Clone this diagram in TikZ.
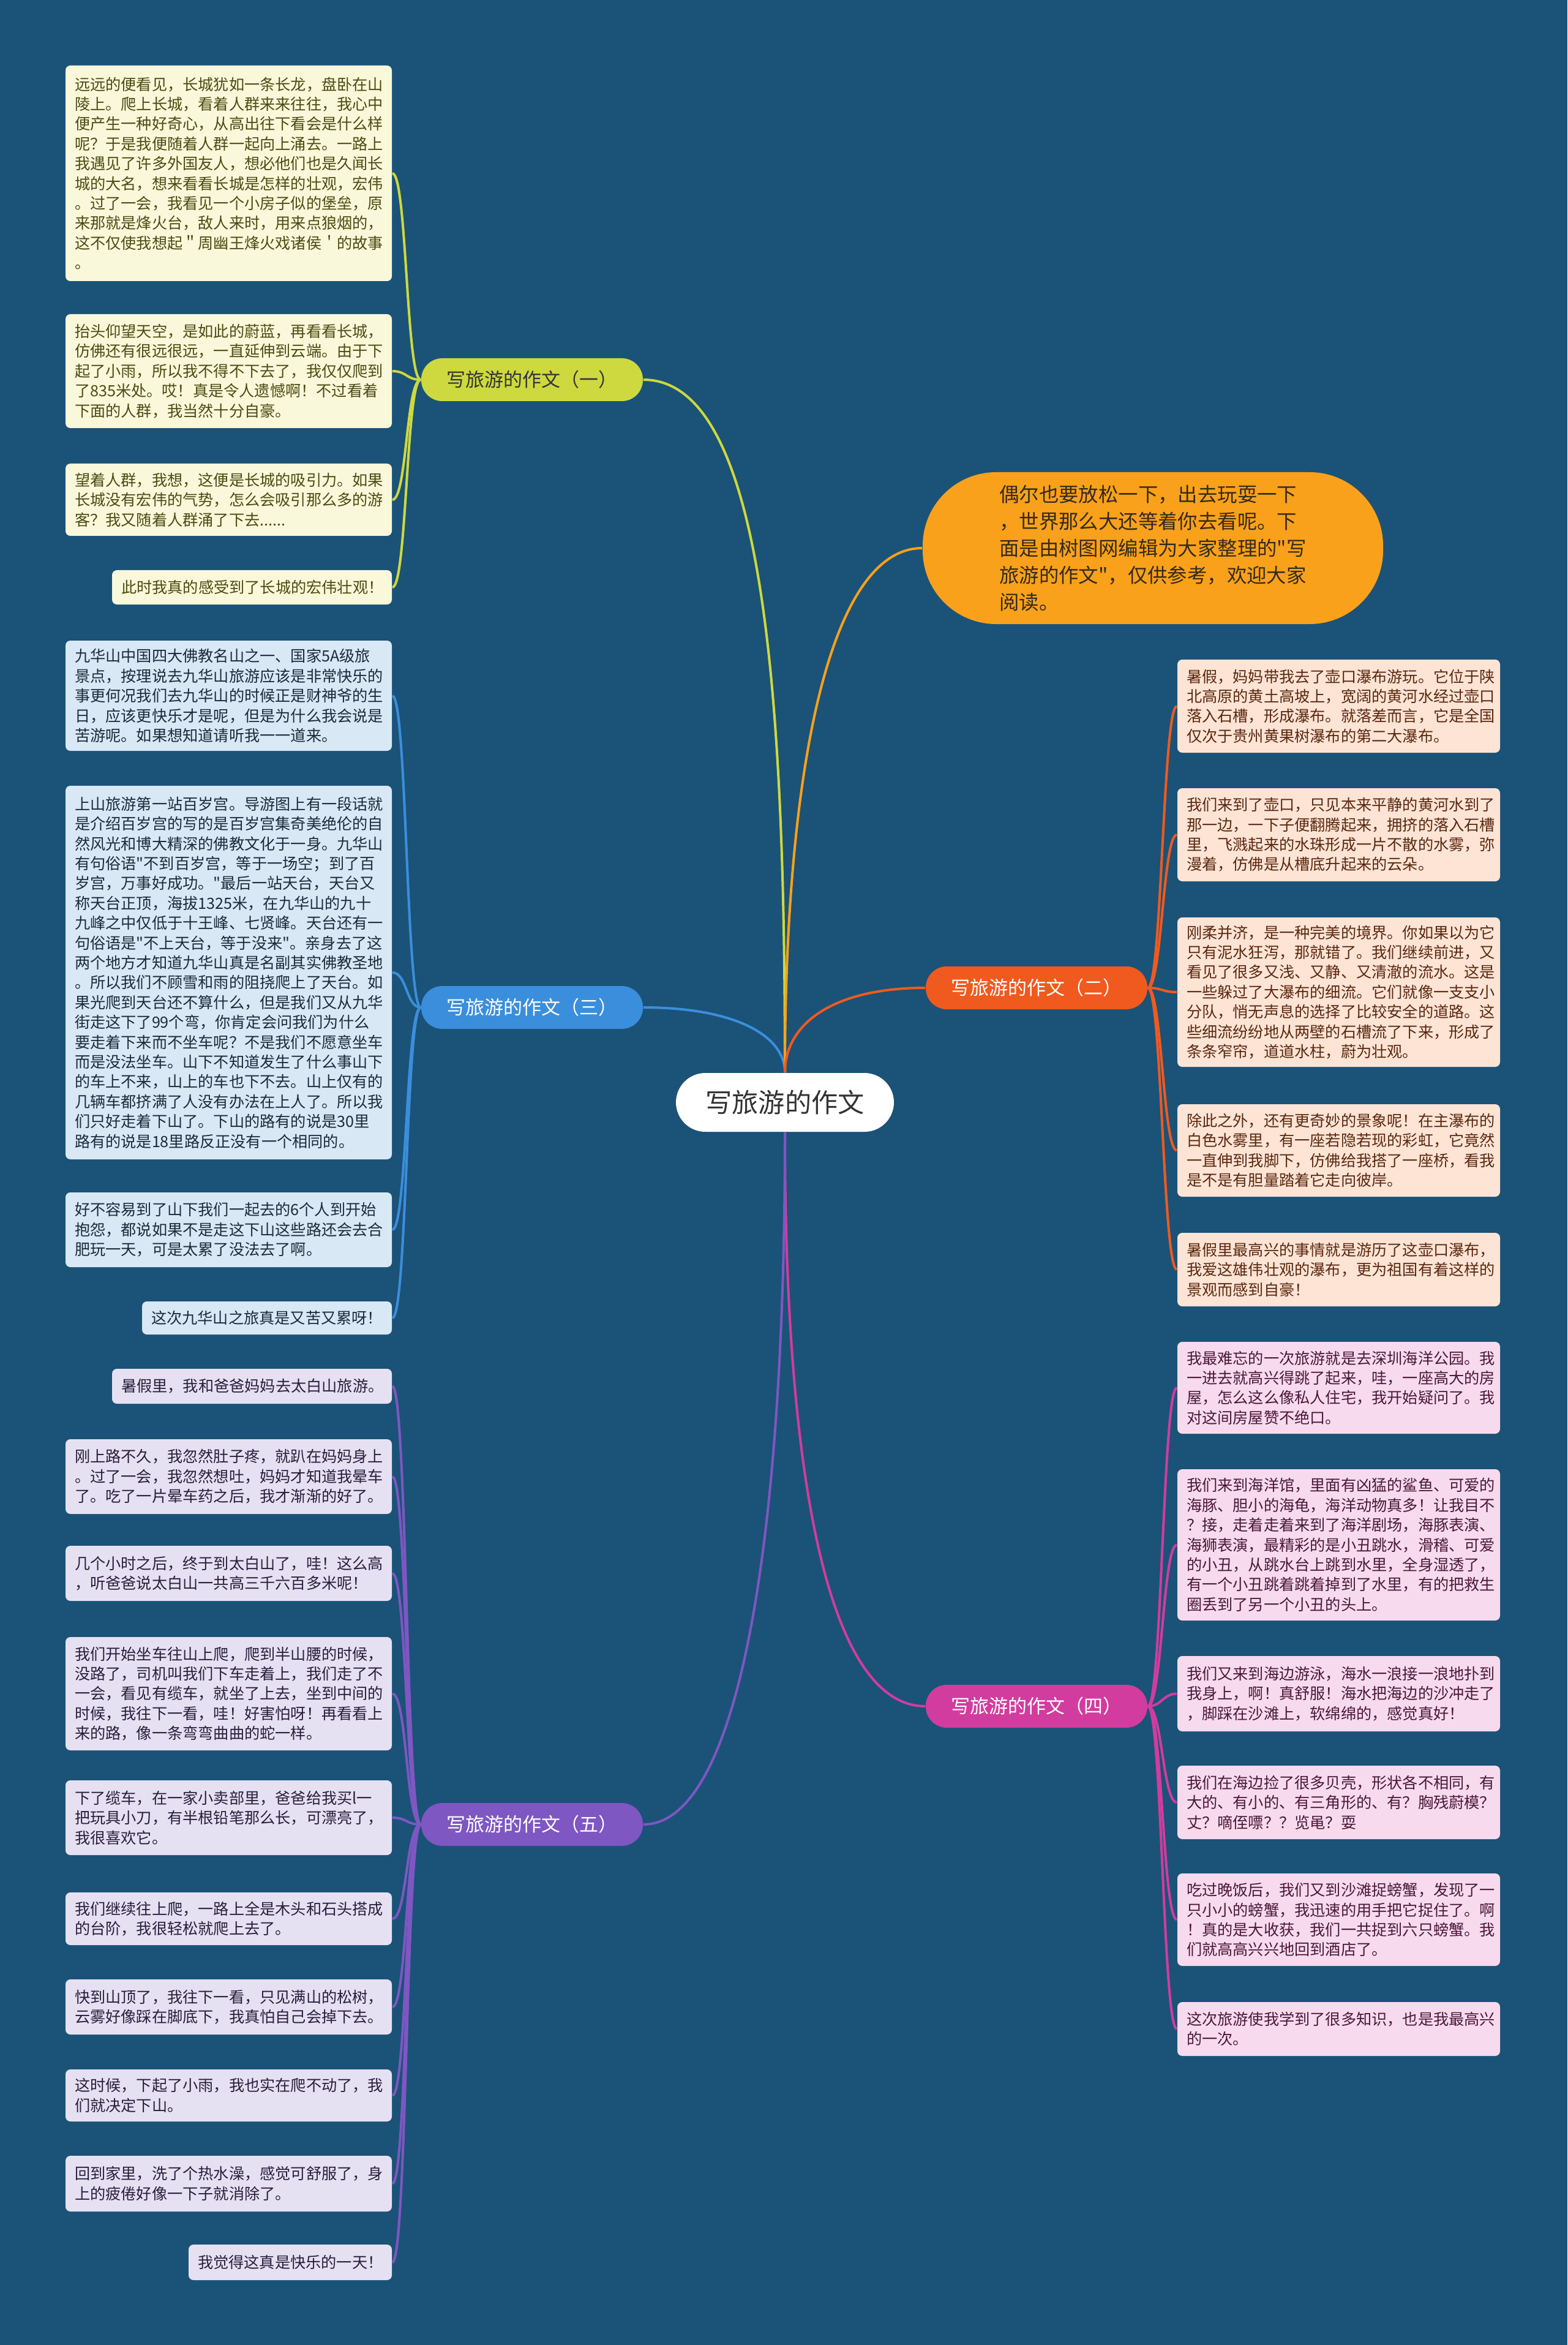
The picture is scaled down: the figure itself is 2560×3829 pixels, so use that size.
\documentclass[tikz,border=0pt]{standalone}
\usepackage{fontspec}
\newfontfamily\cjk{Noto Sans CJK SC}
\usetikzlibrary{fit}
\definecolor{bgc}{HTML}{1B5278}
\definecolor{cyel}{HTML}{CDD93E}
\definecolor{cblu}{HTML}{3B8EDC}
\definecolor{cpur}{HTML}{7E57C2}
\definecolor{cora}{HTML}{F05A1E}
\definecolor{cmag}{HTML}{D23C9E}
\definecolor{cint}{HTML}{F9A11B}
\definecolor{fyel}{HTML}{FAF8DA}
\definecolor{tyel}{HTML}{4B4B12}
\definecolor{fblu}{HTML}{D8E8F5}
\definecolor{tblu}{HTML}{1C2A3A}
\definecolor{fpur}{HTML}{E6E1F2}
\definecolor{tpur}{HTML}{281E3C}
\definecolor{fora}{HTML}{FDE4D5}
\definecolor{tora}{HTML}{5A2810}
\definecolor{fmag}{HTML}{F7DAEE}
\definecolor{tmag}{HTML}{4A1838}
\definecolor{tdark}{HTML}{333333}
\pgfdeclarelayer{bglayer}
\pgfsetlayers{bglayer,main}
\tikzset{
  leafbase/.style={rectangle, rounded corners=2pt, inner sep=0pt},
  ltext/.style={font=\cjk\fontsize{6.3}{8.1}\selectfont, align=left, inner sep=0pt, anchor=west},
  centerbox/.style={rectangle, rounded corners=12pt, fill=white, minimum width=89pt, minimum height=24pt, inner sep=0pt, font=\cjk\fontsize{10.8}{13}\selectfont, text=tdark},
  branchbox/.style={rectangle, rounded corners=8.6pt, minimum width=90.5pt, minimum height=17.5pt, inner sep=0pt, font=\cjk\fontsize{7.75}{9}\selectfont},
  introbox/.style={rectangle, rounded corners=30pt, fill=cint, minimum width=188pt, minimum height=62pt, inner sep=0pt, align=left, font=\cjk\fontsize{8.1}{11}\selectfont, text=HTML332A1A},
  conn/.style={line width=1pt},
}
\definecolor{HTML332A1A}{HTML}{332A1A}
\newcommand\leafnode[8]{%
  \node[leafbase, fill=#2, fit={(#4,#5) (#6,#7)}] (#1) {};
  \node[ltext, text=#3] (#1t) at ([xshift=3.75pt]#1.west) {#8};
}
\begin{document}
\begin{tikzpicture}[x=0.25pt,y=-0.25pt]
\begin{pgfonlayer}{bglayer}
\fill[bgc] (0,0) rectangle (2560,3829);
\end{pgfonlayer}
\useasboundingbox (0,0) rectangle (2560,3829);

% center and branches
\node[centerbox] (center) at (1282,1800) {写旅游的作文};
\node[branchbox, fill=cyel, text=tdark] (b1) at (869,620) {写旅游的作文（一）};
\node[branchbox, fill=cblu, text=white] (b3) at (869,1645) {写旅游的作文（三）};
\node[branchbox, fill=cpur, text=white] (b5) at (869,2979) {写旅游的作文（五）};
\node[branchbox, fill=cora, text=white] (b2) at (1693,1613) {写旅游的作文（二）};
\node[branchbox, fill=cmag, text=white] (b4) at (1693,2786) {写旅游的作文（四）};
\node[introbox] (intro) at (1883,895) {偶尔也要放松一下，出去玩耍一下\\，世界那么大还等着你去看呢。下\\面是由树图网编辑为大家整理的"写\\旅游的作文"，仅供参考，欢迎大家\\阅读。};

% branch 1
\leafnode{l1a}{fyel}{tyel}{107}{107}{640}{459}{远远的便看见，长城犹如一条长龙，盘卧在山\\陵上。爬上长城，看着人群来来往往，我心中\\便产生一种好奇心，从高出往下看会是什么样\\呢？于是我便随着人群一起向上涌去。一路上\\我遇见了许多外国友人，想必他们也是久闻长\\城的大名，想来看看长城是怎样的壮观，宏伟\\。过了一会，我看见一个小房子似的堡垒，原\\来那就是烽火台，敌人来时，用来点狼烟的，\\这不仅使我想起＂周幽王烽火戏诸侯＇的故事\\。}
\leafnode{l1b}{fyel}{tyel}{107}{513}{640}{699}{抬头仰望天空，是如此的蔚蓝，再看看长城，\\仿佛还有很远很远，一直延伸到云端。由于下\\起了小雨，所以我不得不下去了，我仅仅爬到\\了835米处。哎！真是令人遗憾啊！不过看着\\下面的人群，我当然十分自豪。}
\leafnode{l1c}{fyel}{tyel}{107}{757}{640}{875}{望着人群，我想，这便是长城的吸引力。如果\\长城没有宏伟的气势，怎么会吸引那么多的游\\客？我又随着人群涌了下去......}
\leafnode{l1d}{fyel}{tyel}{183}{931}{640}{987}{此时我真的感受到了长城的宏伟壮观！}

% branch 3
\leafnode{l3a}{fblu}{tblu}{107}{1046}{640}{1226}{九华山中国四大佛教名山之一、国家5A级旅\\景点，按理说去九华山旅游应该是非常快乐的\\事更何况我们去九华山的时候正是财神爷的生\\日，应该更快乐才是呢，但是为什么我会说是\\苦游呢。如果想知道请听我一一道来。}
\leafnode{l3b}{fblu}{tblu}{107}{1283}{640}{1893}{上山旅游第一站百岁宫。导游图上有一段话就\\是介绍百岁宫的写的是百岁宫集奇美绝伦的自\\然风光和博大精深的佛教文化于一身。九华山\\有句俗语"不到百岁宫，等于一场空；到了百\\岁宫，万事好成功。"最后一站天台，天台又\\称天台正顶，海拔1325米，在九华山的九十\\九峰之中仅低于十王峰、七贤峰。天台还有一\\句俗语是"不上天台，等于没来"。亲身去了这\\两个地方才知道九华山真是名副其实佛教圣地\\。所以我们不顾雪和雨的阻挠爬上了天台。如\\果光爬到天台还不算什么，但是我们又从九华\\街走这下了99个弯，你肯定会问我们为什么\\要走着下来而不坐车呢？不是我们不愿意坐车\\而是没法坐车。山下不知道发生了什么事山下\\的车上不来，山上的车也下不去。山上仅有的\\几辆车都挤满了人没有办法在上人了。所以我\\们只好走着下山了。下山的路有的说是30里\\路有的说是18里路反正没有一个相同的。}
\leafnode{l3c}{fblu}{tblu}{107}{1947}{640}{2069}{好不容易到了山下我们一起去的6个人到开始\\抱怨，都说如果不是走这下山这些路还会去合\\肥玩一天，可是太累了没法去了啊。}
\leafnode{l3d}{fblu}{tblu}{232}{2125}{640}{2179}{这次九华山之旅真是又苦又累呀！}

% branch 5
\leafnode{l5a}{fpur}{tpur}{183}{2235}{640}{2292}{暑假里，我和爸爸妈妈去太白山旅游。}
\leafnode{l5b}{fpur}{tpur}{107}{2350}{640}{2472}{刚上路不久，我忽然肚子疼，就趴在妈妈身上\\。过了一会，我忽然想吐，妈妈才知道我晕车\\了。吃了一片晕车药之后，我才渐渐的好了。}
\leafnode{l5c}{fpur}{tpur}{107}{2524}{640}{2614}{几个小时之后，终于到太白山了，哇！这么高\\，听爸爸说太白山一共高三千六百多米呢！}
\leafnode{l5d}{fpur}{tpur}{107}{2673}{640}{2858}{我们开始坐车往山上爬，爬到半山腰的时候，\\没路了，司机叫我们下车走着上，我们走了不\\一会，看见有缆车，就坐了上去，坐到中间的\\时候，我往下一看，哇！好害怕呀！再看看上\\来的路，像一条弯弯曲曲的蛇一样。}
\leafnode{l5e}{fpur}{tpur}{107}{2907}{640}{3029}{下了缆车，在一家小卖部里，爸爸给我买l一\\把玩具小刀，有半根铅笔那么长，可漂亮了，\\我很喜欢它。}
\leafnode{l5f}{fpur}{tpur}{107}{3090}{640}{3176}{我们继续往上爬，一路上全是木头和石头搭成\\的台阶，我很轻松就爬上去了。}
\leafnode{l5g}{fpur}{tpur}{107}{3232}{640}{3322}{快到山顶了，我往下一看，只见满山的松树，\\云雾好像踩在脚底下，我真怕自己会掉下去。}
\leafnode{l5h}{fpur}{tpur}{107}{3379}{640}{3464}{这时候，下起了小雨，我也实在爬不动了，我\\们就决定下山。}
\leafnode{l5i}{fpur}{tpur}{107}{3520}{640}{3611}{回到家里，洗了个热水澡，感觉可舒服了，身\\上的疲倦好像一下子就消除了。}
\leafnode{l5j}{fpur}{tpur}{308}{3665}{640}{3723}{我觉得这真是快乐的一天！}

% branch 2
\leafnode{l2a}{fora}{tora}{1923}{1077}{2450}{1229}{暑假，妈妈带我去了壶口瀑布游玩。它位于陕\\北高原的黄土高坡上，宽阔的黄河水经过壶口\\落入石槽，形成瀑布。就落差而言，它是全国\\仅次于贵州黄果树瀑布的第二大瀑布。}
\leafnode{l2b}{fora}{tora}{1923}{1287}{2450}{1439}{我们来到了壶口，只见本来平静的黄河水到了\\那一边，一下子便翻腾起来，拥挤的落入石槽\\里，飞溅起来的水珠形成一片不散的水雾，弥\\漫着，仿佛是从槽底升起来的云朵。}
\leafnode{l2c}{fora}{tora}{1923}{1498}{2450}{1742}{刚柔并济，是一种完美的境界。你如果以为它\\只有泥水狂泻，那就错了。我们继续前进，又\\看见了很多又浅、又静、又清澈的流水。这是\\一些躲过了大瀑布的细流。它们就像一支支小\\分队，悄无声息的选择了比较安全的道路。这\\些细流纷纷地从两壁的石槽流了下来，形成了\\条条窄帘，道道水柱，蔚为壮观。}
\leafnode{l2d}{fora}{tora}{1923}{1803}{2450}{1954}{除此之外，还有更奇妙的景象呢！在主瀑布的\\白色水雾里，有一座若隐若现的彩虹，它竟然\\一直伸到我脚下，仿佛给我搭了一座桥，看我\\是不是有胆量踏着它走向彼岸。}
\leafnode{l2e}{fora}{tora}{1923}{2013}{2450}{2133}{暑假里最高兴的事情就是游历了这壶口瀑布，\\我爱这雄伟壮观的瀑布，更为祖国有着这样的\\景观而感到自豪！}

% branch 4
\leafnode{l4a}{fmag}{tmag}{1923}{2191}{2450}{2341}{我最难忘的一次旅游就是去深圳海洋公园。我\\一进去就高兴得跳了起来，哇，一座高大的房\\屋，怎么这么像私人住宅，我开始疑问了。我\\对这间房屋赞不绝口。}
\leafnode{l4b}{fmag}{tmag}{1923}{2399}{2450}{2646}{我们来到海洋馆，里面有凶猛的鲨鱼、可爱的\\海豚、胆小的海龟，海洋动物真多！让我目不\\？接，走着走着来到了海洋剧场，海豚表演、\\海狮表演，最精彩的是小丑跳水，滑稽、可爱\\的小丑，从跳水台上跳到水里，全身湿透了，\\有一个小丑跳着跳着掉到了水里，有的把救生\\圈丢到了另一个小丑的头上。}
\leafnode{l4c}{fmag}{tmag}{1923}{2704}{2450}{2827}{我们又来到海边游泳，海水一浪接一浪地扑到\\我身上，啊！真舒服！海水把海边的沙冲走了\\，脚踩在沙滩上，软绵绵的，感觉真好！}
\leafnode{l4d}{fmag}{tmag}{1923}{2883}{2450}{3003}{我们在海边捡了很多贝壳，形状各不相同，有\\大的、有小的、有三角形的、有？胸残蔚模？\\丈？嘀侄嘌？？览黾？耍}
\leafnode{l4e}{fmag}{tmag}{1923}{3059}{2450}{3210}{吃过晚饭后，我们又到沙滩捉螃蟹，发现了一\\只小小的螃蟹，我迅速的用手把它捉住了。啊\\！真的是大收获，我们一共捉到六只螃蟹。我\\们就高高兴兴地回到酒店了。}
\leafnode{l4f}{fmag}{tmag}{1923}{3269}{2450}{3357}{这次旅游使我学到了很多知识，也是我最高兴\\的一次。}

% connectors
\begin{pgfonlayer}{bglayer}
\draw[conn,cyel] (b1.east) .. controls +(200,0) and +(0,-600) .. (center.north);
\draw[conn,cblu] (b3.east) .. controls +(150,0) and +(0,-60) .. (center.north);
\draw[conn,cint] (center.north) .. controls +(0,-500) and +(-150,0) .. (intro.west);
\draw[conn,cora] (center.north) .. controls +(0,-80) and +(-150,0) .. (b2.west);
\draw[conn,cmag] (center.south) .. controls +(0,600) and +(-150,0) .. (b4.west);
\draw[conn,cpur] (b5.east) .. controls +(150,0) and +(0,700) .. (center.south);
\foreach \l in {l1a,l1b,l1c,l1d}
  \draw[conn,cyel] (b1.west) .. controls +(-24,0) and +(24,0) .. (\l.east);
\foreach \l in {l3a,l3b,l3c,l3d}
  \draw[conn,cblu] (b3.west) .. controls +(-24,0) and +(24,0) .. (\l.east);
\foreach \l in {l5a,l5b,l5c,l5d,l5e,l5f,l5g,l5h,l5i,l5j}
  \draw[conn,cpur] (b5.west) .. controls +(-24,0) and +(24,0) .. (\l.east);
\foreach \l in {l2a,l2b,l2c,l2d,l2e}
  \draw[conn,cora] (b2.east) .. controls +(23,0) and +(-23,0) .. (\l.west);
\foreach \l in {l4a,l4b,l4c,l4d,l4e,l4f}
  \draw[conn,cmag] (b4.east) .. controls +(23,0) and +(-23,0) .. (\l.west);
\end{pgfonlayer}
\end{tikzpicture}
\end{document}
